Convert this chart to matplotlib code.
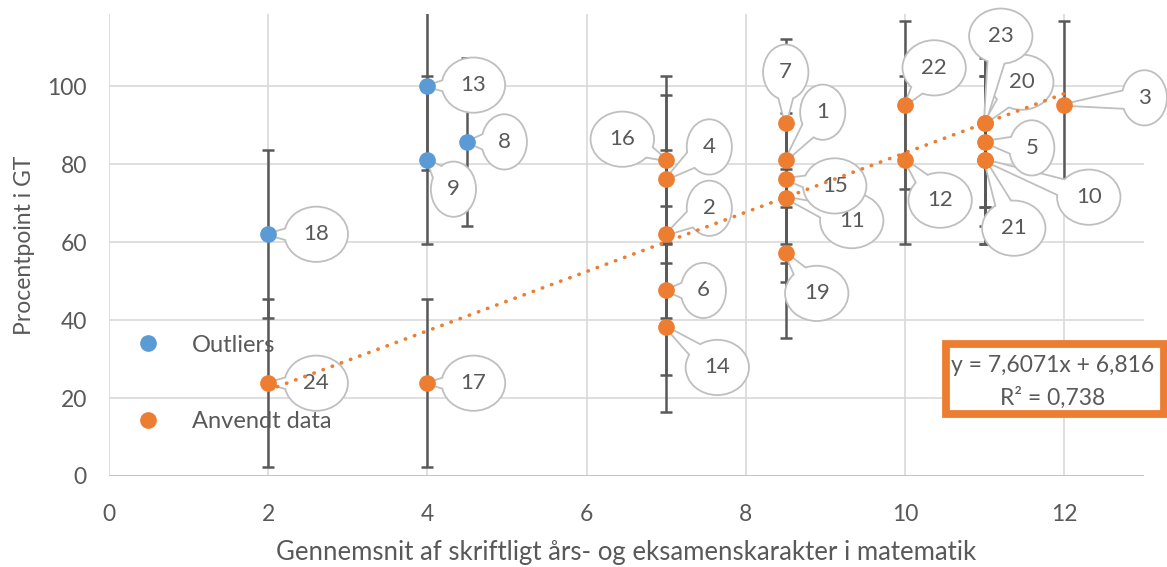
import matplotlib
matplotlib.use('Agg')
import matplotlib.pyplot as plt
from matplotlib.patches import Rectangle

# Data
outlier_x = [2, 4, 4, 4.5]
outlier_y = [62, 100, 81, 85.7]
outlier_err = [21.6, 21.6, 21.6, 21.6]
outlier_id = ['18', '13', '9', '8']

used_x = [2, 4, 7, 7, 7, 7, 7, 8.5, 8.5, 8.5, 8.5, 8.5, 10, 10, 11, 11, 11, 11, 11, 12]
used_y = [23.8, 23.8, 81, 76.2, 62, 47.6, 38.1, 90.5, 81, 76.2, 71.4, 57.1,
          95.2, 81, 90.5, 90.5, 85.7, 81, 81, 95.2]
used_err = [21.6, 21.6, 21.6, 21.6, 21.6, 21.6, 21.6, 21.6, 21.6, 21.6, 21.6, 21.6,
            21.6, 21.6, 21.6, 21.6, 21.6, 21.6, 21.6, 21.6]
used_id = ['24', '17', '16', '4', '2', '6', '14', '7', '1', '15', '11', '19',
           '22', '12', '23', '20', '5', '10', '21', '3']

slope = 7.6071
intercept = 6.816
r2 = 0.738

# label bubble offsets (pixels, right / down) relative to each point
label_offset = {
    '18': (48, 0), '13': (46, -1), '9': (26, 29), '8': (37, 0),
    '24': (48, 0), '17': (46, 0), '16': (-44, -21), '4': (43, -32),
    '2': (43, -26), '6': (37, 0), '14': (51, 40), '7': (0, -51),
    '1': (37, -48), '15': (49, 7), '11': (66, 23), '19': (31, 40),
    '22': (29, -37), '12': (35, 40), '23': (16, -87), '20': (37, -41),
    '5': (47, 6), '10': (104, 37), '21': (29, 68), '3': (80, -7),
}

BLUE = '#5B9BD5'
ORANGE = '#ED7D31'
TXT = '#595959'
GRID = '#D9D9D9'
BUBBLE_EC = '#BFBFBF'

plt.rcParams['font.family'] = ['Lato', 'DejaVu Sans']

fig = plt.figure(figsize=(11.67, 5.67), dpi=100)
ax = fig.add_axes([109 / 1167, 91 / 567, 1035 / 1167, 462 / 567])

ax.set_xlim(0, 13)
ax.set_ylim(0, 118.5)
ax.set_xticks(range(0, 13, 2))
ax.set_yticks(range(0, 101, 20))
ax.grid(True, color=GRID, lw=1.2, zorder=0)
ax.set_axisbelow(True)
for s in ax.spines.values():
    s.set_visible(False)
ax.axhline(0, color='#BFBFBF', lw=1.2, zorder=1)
ax.tick_params(length=0, labelsize=16.5, colors=TXT)
ax.tick_params(axis='y', pad=16)
ax.tick_params(axis='x', pad=20)

ax.set_xlabel('Gennemsnit af skriftligt års- og eksamenskarakter i matematik',
              fontsize=18.5, color=TXT, labelpad=11)
ax.set_ylabel('Procentpoint i GT', fontsize=16.5, color=TXT, labelpad=9)

# error bars
ax.errorbar(outlier_x, outlier_y, yerr=outlier_err, fmt='none', ecolor='#595959',
            elinewidth=1.8, capsize=4.5, capthick=1.8, zorder=2)
ax.errorbar(used_x, used_y, yerr=used_err, fmt='none', ecolor='#595959',
            elinewidth=1.8, capsize=4.5, capthick=1.8, zorder=2)

# trend line over the used data
xs = [min(used_x), max(used_x)]
ax.plot(xs, [slope * v + intercept for v in xs], color=ORANGE, lw=2.6,
        ls=(0, (0.1, 2.6)), dash_capstyle='round', zorder=6)

# call-out bubbles: outline pass then fill pass, so the outline is the union
all_x = outlier_x + used_x
all_y = outlier_y + used_y
all_id = outlier_id + used_id
n = len(all_id)
for i, (x, y, lab) in enumerate(zip(all_x, all_y, all_id)):
    dx, dy = label_offset[lab]
    z = 4 + (n - i) * 0.02
    for k, (ec, lw) in enumerate([(BUBBLE_EC, 2.6), ('none', 0)]):
        ax.annotate(lab, xy=(x, y), xytext=(dx * 0.72, -dy * 0.72),
                    textcoords='offset points', ha='center', va='center',
                    fontsize=16, color=TXT, zorder=z + k * 0.01,
                    bbox=dict(boxstyle='ellipse,pad=0.4', fc='white', ec=ec, lw=lw),
                    arrowprops=dict(arrowstyle='wedge,tail_width=0.8',
                                    fc='white', ec=ec, lw=lw, patchA=None,
                                    shrinkA=12, shrinkB=0))

ax.plot(outlier_x, outlier_y, 'o', color=BLUE, ms=11, label='Outliers', zorder=7)
ax.plot(used_x, used_y, 'o', color=ORANGE, ms=11, label='Anvendt data', zorder=7)

leg = ax.legend(loc='center left', bbox_to_anchor=(0.0, (476 - 383.5) / 462),
                frameon=False, fontsize=17, labelspacing=2.35, handlelength=1.5,
                handletextpad=1.1, labelcolor=TXT)
leg.set_zorder(8)

# trend equation box
fig.add_artist(Rectangle((946 / 1167, 1 - 414 / 567), 218 / 1167, 70 / 567,
                         transform=fig.transFigure, fc='white', ec=ORANGE, lw=5.6,
                         zorder=10))
fig.text(1053 / 1167, 1 - 366 / 567, 'y = {}x + {}'.format(
    str(slope).replace('.', ','), str(intercept).replace('.', ',')),
    ha='center', va='center', fontsize=16.5, color=TXT, zorder=11)
fig.text(1053 / 1167, 1 - 398 / 567, 'R² = {}'.format(str(r2).replace('.', ',')),
         ha='center', va='center', fontsize=16.5, color=TXT, zorder=11)

fig.savefig('out.png', dpi=100)
